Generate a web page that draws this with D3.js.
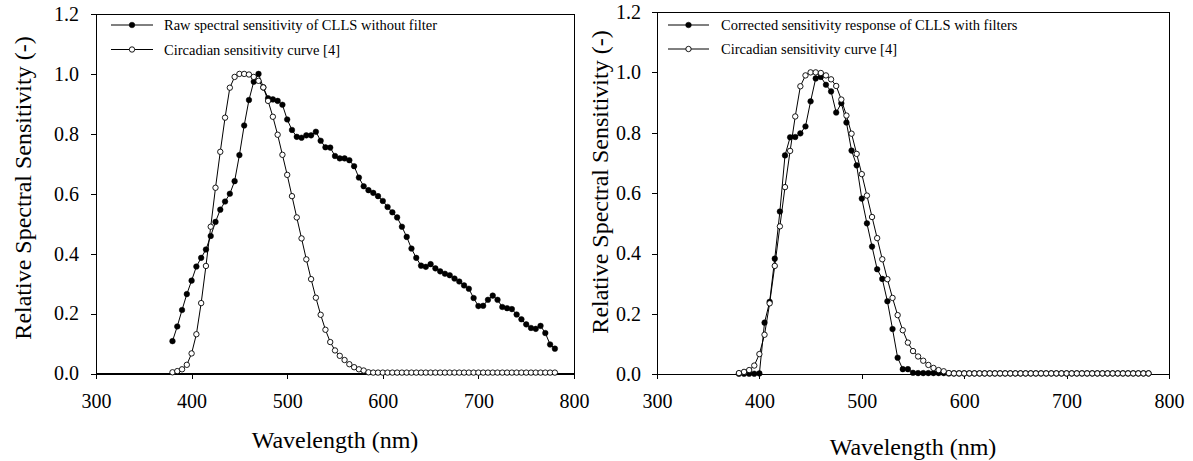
<!DOCTYPE html>
<html>
<head>
<meta charset="utf-8">
<script src="https://cdn.jsdelivr.net/npm/d3@7"></script>
<style>
  html, body { margin: 0; padding: 0; background: #fff; }
  svg { display: block; }
  text { font-family: "Liberation Serif", "Times New Roman", serif; fill: #000; }
</style>
</head>
<body>
<svg id="chart" width="1193" height="461"></svg>
<script>
// ---- data ----
const wavelengths = d3.range(380, 781, 5); // 380..780 nm, 5 nm steps (81 points)

const rawSensitivity = [
  0.108, 0.157, 0.212, 0.265, 0.310, 0.357, 0.386, 0.414, 0.459, 0.506,
  0.547, 0.574, 0.600, 0.642, 0.729, 0.828, 0.913, 0.974, 1.000, 0.955,
  0.919, 0.915, 0.910, 0.897, 0.848, 0.813, 0.790, 0.787, 0.795, 0.795,
  0.807, 0.777, 0.755, 0.754, 0.726, 0.718, 0.718, 0.712, 0.692, 0.654,
  0.625, 0.612, 0.603, 0.592, 0.576, 0.556, 0.538, 0.521, 0.490, 0.456,
  0.417, 0.386, 0.360, 0.356, 0.365, 0.351, 0.341, 0.333, 0.328, 0.317,
  0.307, 0.294, 0.283, 0.252, 0.225, 0.226, 0.246, 0.260, 0.246, 0.222,
  0.218, 0.215, 0.197, 0.181, 0.164, 0.152, 0.149, 0.159, 0.135, 0.097,
  0.083
];

const circadianCurve = [
  0.004, 0.008, 0.014, 0.029, 0.067, 0.131, 0.235, 0.359, 0.490, 0.620,
  0.740, 0.854, 0.954, 0.990, 1.000, 1.000, 0.998, 0.990, 0.977, 0.955,
  0.910, 0.857, 0.797, 0.730, 0.663, 0.592, 0.521, 0.451, 0.381, 0.315,
  0.253, 0.196, 0.146, 0.105, 0.077, 0.059, 0.045, 0.031, 0.021, 0.014,
  0.010, 0.004, 0.003, 0.003, 0.003, 0.003, 0.003, 0.003, 0.003, 0.003,
  0.003, 0.003, 0.003, 0.003, 0.003, 0.003, 0.003, 0.003, 0.003, 0.003,
  0.003, 0.003, 0.003, 0.003, 0.003, 0.003, 0.003, 0.003, 0.003, 0.003,
  0.003, 0.003, 0.003, 0.003, 0.003, 0.003, 0.003, 0.003, 0.003, 0.003,
  0.003
];

const correctedSensitivity = [
  0.002, 0.002, 0.002, 0.002, 0.003, 0.171, 0.240, 0.383, 0.539, 0.725,
  0.785, 0.786, 0.798, 0.821, 0.904, 0.980, 0.985, 0.959, 0.937, 0.867,
  0.898, 0.834, 0.741, 0.692, 0.582, 0.500, 0.423, 0.348, 0.316, 0.242,
  0.150, 0.055, 0.017, 0.017, 0.005, 0.004, 0.004, 0.004, 0.004, 0.004,
  0.004, 0.003, 0.003, 0.003, 0.003, 0.003, 0.003, 0.003, 0.003, 0.003,
  0.003, 0.003, 0.003, 0.003, 0.003, 0.003, 0.003, 0.003, 0.003, 0.003,
  0.003, 0.003, 0.003, 0.003, 0.003, 0.003, 0.003, 0.003, 0.003, 0.003,
  0.003, 0.003, 0.003, 0.003, 0.003, 0.003, 0.003, 0.003, 0.003, 0.003,
  0.003
];

const xTicks = [300, 400, 500, 600, 700, 800];
const yTicks = [0.0, 0.2, 0.4, 0.6, 0.8, 1.0, 1.2];
const xTitle = "Wavelength (nm)";
const yTitle = "Relative Spectral Sensitivity (-)";

const leftLegend = ["Raw spectral sensitivity of CLLS without filter", "Circadian sensitivity curve [4]"];
const rightLegend = ["Corrected sensitivity response of CLLS with filters", "Circadian sensitivity curve [4]"];

// ---- drawing ----
const svg = d3.select("#chart");
const FONT = '"Liberation Serif", "Times New Roman", serif';

function panel(cfg) {
  const x = d3.scaleLinear().domain([300, 800]).range([cfg.x0, cfg.x1]);
  const y = d3.scaleLinear().domain([0, 1.2]).range([cfg.y0, cfg.y1]);
  const g = svg.append("g");

  // frame
  g.append("rect")
    .attr("x", cfg.x0).attr("y", cfg.y1)
    .attr("width", cfg.x1 - cfg.x0).attr("height", cfg.y0 - cfg.y1)
    .attr("fill", "none").attr("stroke", "#000").attr("stroke-width", 1)
    .attr("shape-rendering", "crispEdges");

  const ax = g.append("g").attr("transform", `translate(0,${cfg.y0})`)
    .call(d3.axisBottom(x).tickValues(xTicks).tickFormat(d3.format("d"))
      .tickSize(5).tickSizeOuter(0).tickPadding(15));
  const ay = g.append("g").attr("transform", `translate(${cfg.x0},0)`)
    .call(d3.axisLeft(y).tickValues(yTicks).tickFormat(d3.format(".1f"))
      .tickSize(5).tickSizeOuter(0).tickPadding(cfg.ypad));
  [ax, ay].forEach(a => {
    a.attr("font-family", FONT);
    a.select(".domain").attr("stroke", "#000").attr("shape-rendering", "crispEdges");
    a.selectAll(".tick line").attr("stroke", "#000").attr("shape-rendering", "crispEdges");
    a.selectAll(".tick text").attr("font-size", 20)
      .style("font-family", FONT).attr("fill", "#000");
  });

  // titles
  g.append("text")
    .attr("x", (cfg.x0 + cfg.x1) / 2).attr("y", cfg.xTitleY)
    .attr("text-anchor", "middle").attr("font-size", 24).style("font-family", FONT).text(xTitle);
  g.append("text")
    .attr("transform", `translate(${cfg.yTitleX},${cfg.yTitleCY}) rotate(-90)`)
    .attr("text-anchor", "middle").attr("font-size", 24).style("font-family", FONT).text(yTitle);

  const line = d3.line().x((d, i) => x(wavelengths[i])).y(d => y(d));

  cfg.series.forEach(s => {
    g.append("path").datum(s.values)
      .attr("d", line).attr("fill", "none").attr("stroke", "#000").attr("stroke-width", 1);
    g.selectAll(null).data(s.values).enter().append("circle")
      .attr("cx", (d, i) => x(wavelengths[i])).attr("cy", d => y(d))
      .attr("r", s.filled ? 2.8 : 2.7)
      .attr("fill", s.filled ? "#000" : "#fff")
      .attr("stroke", "#000").attr("stroke-width", s.filled ? 0.5 : 0.9);
  });

  // legend
  cfg.series.forEach((s, i) => {
    const ly = cfg.legY + i * cfg.legDY;
    g.append("line").attr("x1", cfg.legX0).attr("x2", cfg.legX1)
      .attr("y1", ly).attr("y2", ly).attr("stroke", "#000").attr("stroke-width", 1);
    g.append("circle").attr("cx", (cfg.legX0 + cfg.legX1) / 2).attr("cy", ly)
      .attr("r", s.filled ? 2.8 : 2.7)
      .attr("fill", s.filled ? "#000" : "#fff")
      .attr("stroke", "#000").attr("stroke-width", s.filled ? 0.5 : 0.9);
    g.append("text").attr("x", cfg.legTextX).attr("y", ly).attr("dy", "0.35em")
      .attr("font-size", 14.5).style("font-family", FONT).text(s.label);
  });
}

panel({
  x0: 96, x1: 574, y0: 373.5, y1: 14, ypad: 12,
  xTitleY: 448, yTitleX: 31, yTitleCY: 188,
  legX0: 111, legX1: 153, legTextX: 164, legY: 25, legDY: 24.5,
  series: [
    { values: rawSensitivity, filled: true, label: leftLegend[0] },
    { values: circadianCurve, filled: false, label: leftLegend[1] }
  ]
});

panel({
  x0: 657, x1: 1169, y0: 374.3, y1: 12, ypad: 11,
  xTitleY: 455, yTitleX: 608, yTitleCY: 182,
  legX0: 668, legX1: 709, legTextX: 721, legY: 25, legDY: 24,
  series: [
    { values: correctedSensitivity, filled: true, label: rightLegend[0] },
    { values: circadianCurve, filled: false, label: rightLegend[1] }
  ]
});
</script>
</body>
</html>
